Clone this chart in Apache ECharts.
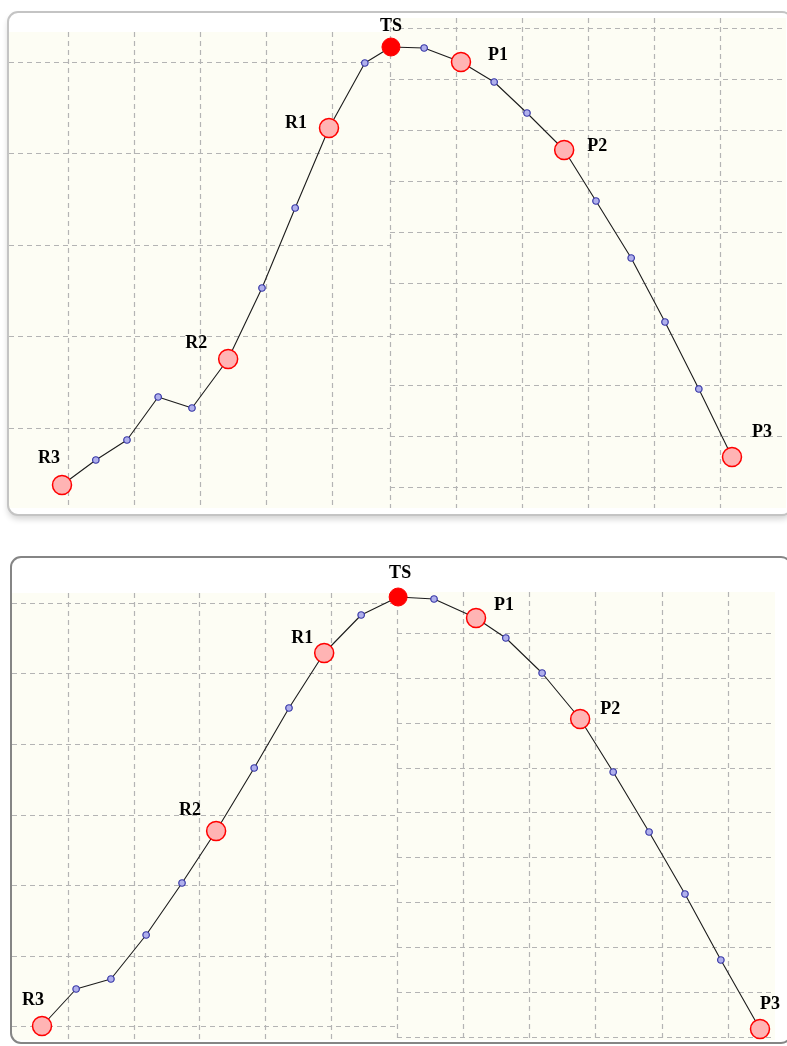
<!DOCTYPE html>
<html>
<head>
<meta charset="utf-8">
<script src="https://cdn.jsdelivr.net/npm/echarts@6/dist/echarts.min.js"></script>
<style>
  html, body { margin: 0; padding: 0; background: #fff; }
  #chart { width: 787px; height: 1046px; }
</style>
</head>
<body>
<div id="chart"></div>
<script>
// stationary points along the path (empty = intermediate image)
const pointNames = ['R3', '', '', '', '', 'R2', '', '', 'R1', '', 'TS', '', 'P1', '', '', 'P2', '', '', '', '', 'P3'];

// upper panel: reaction coordinate / relative energy
const coordTop = [0, 1.01, 1.94, 2.87, 3.88, 4.96, 5.97, 6.96, 7.97, 9.04, 9.82, 10.81, 11.91, 12.9, 13.88, 14.99, 15.94, 16.99, 18.0, 19.01, 20.0];
const energyTop = [0, 2.5, 4.5, 8.8, 7.7, 12.6, 19.7, 27.7, 35.7, 42.2, 43.8, 43.7, 42.3, 40.3, 37.2, 33.5, 28.4, 22.7, 16.3, 9.6, 2.8];

// lower panel
const coordBottom = [0, 0.95, 1.92, 2.9, 3.9, 4.85, 5.91, 6.88, 7.86, 8.89, 9.92, 10.92, 12.09, 12.92, 13.93, 14.99, 15.91, 16.91, 17.91, 18.91, 20.0];
const energyBottom = [0, 3.7, 4.7, 9.1, 14.3, 19.5, 25.8, 31.8, 37.3, 41.1, 42.9, 42.7, 40.8, 38.8, 35.3, 30.7, 25.4, 19.4, 13.2, 6.6, -0.3];

// where each name label sits relative to its marker
const labelOffsetTop = { R3: [-13, -27], R2: [-32, -16], R1: [-33, -5], TS: [0, -21], P1: [37, -7], P2: [33, -4], P3: [30, -25] };
const labelOffsetBottom = { R3: [-9, -26], R2: [-26, -21], R1: [-22, -15], TS: [2, -24], P1: [28, -13], P2: [30, -10], P3: [10, -25] };

const chart = echarts.init(document.getElementById('chart'));

const cream = '#fdfdf4';
const dashed = { color: '#b4b4b4', width: 1.2, type: [5, 4] };

// background-only axis pair, draws dashed cell lines
const cellAxis = (gridIndex, min, max, showMin, inverse) => ({
  type: 'value',
  gridIndex,
  min,
  max,
  inverse: !!inverse,
  minInterval: 1,
  maxInterval: 1,
  axisLine: { show: false },
  axisTick: { show: false },
  axisLabel: { show: false },
  splitLine: { show: true, showMinLine: showMin, showMaxLine: false, lineStyle: dashed },
});

const hiddenAxis = (gridIndex, min, max) => ({
  type: 'value',
  gridIndex,
  min,
  max,
  show: false,
  splitLine: { show: false },
});

const buildPoints = (xs, ys, offsets) =>
  xs.map((x, i) => {
    const name = pointNames[i];
    const item = { value: [x, ys[i]] };
    if (!name) return item;
    item.name = name;
    if (name === 'TS') {
      item.symbolSize = 18;
      item.itemStyle = { color: '#ff0000', borderColor: '#ff0000', borderWidth: 1 };
    } else {
      item.symbolSize = 19;
      item.itemStyle = { color: '#ffb4b4', borderColor: '#ff0000', borderWidth: 1.5 };
    }
    item.label = { show: true, formatter: name, offset: offsets[name] };
    return item;
  });

const pathSeries = (index, data) => ({
  type: 'line',
  xAxisIndex: index,
  yAxisIndex: index,
  data,
  clip: false,
  showAllSymbol: true,
  symbol: 'circle',
  symbolSize: 6.5,
  z: 5,
  lineStyle: { color: '#1c1c1c', width: 1.1 },
  itemStyle: { color: '#b0b0ec', borderColor: '#3636a6', borderWidth: 1.2 },
  label: {
    show: false,
    position: 'inside',
    color: '#000',
    fontFamily: 'Liberation Serif',
    fontWeight: 'bold',
    fontSize: 18,
  },
  emphasis: { disabled: true },
});

const panelFrame = (x, y, w, h, stroke, shadow) => [
  {
    type: 'rect',
    z: -10,
    silent: true,
    shape: { x, y, width: w, height: h, r: 10 },
    style: {
      fill: '#fff',
      shadowBlur: shadow ? 6 : 0,
      shadowOffsetY: shadow ? 4 : 0,
      shadowColor: 'rgba(0,0,0,0.18)',
    },
  },
  {
    type: 'rect',
    z: 20,
    silent: true,
    shape: { x, y, width: w, height: h, r: 10 },
    style: { fill: 'none', stroke, lineWidth: 2 },
  },
];

chart.setOption({
  animation: false,
  backgroundColor: '#fff',
  graphic: [
    ...panelFrame(8, 12, 784, 503, '#c4c4c4', true),
    ...panelFrame(11, 557, 780, 486, '#858585', false),
  ],
  grid: [
    // upper panel: left half cells, right half cells, data
    { left: 9, top: 32, width: 381, height: 476, show: true, backgroundColor: cream, borderWidth: 0 },
    { left: 390, top: 18, width: 396, height: 490, show: true, backgroundColor: cream, borderWidth: 0 },
    { left: 9, top: 32, width: 777, height: 476 },
    // lower panel
    { left: 12, top: 593, width: 385, height: 447, show: true, backgroundColor: cream, borderWidth: 0 },
    { left: 397, top: 592, width: 378, height: 448, show: true, backgroundColor: cream, borderWidth: 0 },
    { left: 12, top: 593, width: 763, height: 447 },
  ],
  xAxis: [
    cellAxis(0, -0.894, 4.879, false),
    cellAxis(1, 0, 5.99, true),
    hiddenAxis(2, -1.582, 21.612),
    cellAxis(3, -0.851, 5.0, false),
    cellAxis(4, 0, 5.71, true),
    hiddenAxis(5, -0.836, 20.418),
  ],
  yAxis: [
    cellAxis(0, -0.328, 4.874, false, true),
    cellAxis(1, -0.196, 9.41, false, true),
    hiddenAxis(2, -2.3, 45.3),
    cellAxis(3, -0.142, 6.19, false, true),
    cellAxis(4, -0.913, 9.06, false, true),
    hiddenAxis(5, -1.4, 43.3),
  ],
  series: [
    pathSeries(2, buildPoints(coordTop, energyTop, labelOffsetTop)),
    pathSeries(5, buildPoints(coordBottom, energyBottom, labelOffsetBottom)),
  ],
});
</script>
</body>
</html>
